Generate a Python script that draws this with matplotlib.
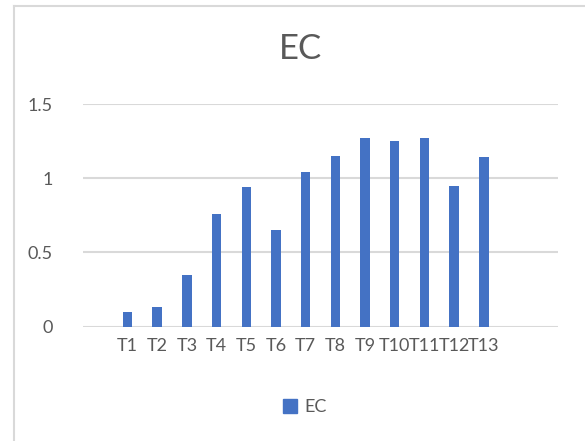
import matplotlib
matplotlib.use("Agg")
import matplotlib.pyplot as plt
from matplotlib.lines import Line2D
from matplotlib.patches import Patch

categories = ["T1", "T2", "T3", "T4", "T5", "T6", "T7", "T8", "T9", "T10", "T11", "T12", "T13"]
values = [0.10, 0.13, 0.35, 0.76, 0.94, 0.65, 1.04, 1.15, 1.27, 1.25, 1.27, 0.95, 1.14]
yticks = [0, 0.5, 1, 1.5]
ytick_labels = ["0", "0.5", "1", "1.5"]

plt.rcParams['font.family'] = ['Lato', 'DejaVu Sans']
W, H = 585, 441
fig = plt.figure(figsize=(W / 100, H / 100), dpi=100)
ax = fig.add_axes([83 / W, 1 - 326.7 / H, (558 - 83) / W, (326.7 - 104) / H])

x = list(range(len(categories)))
ax.bar(x, values, width=0.32, color="#4472C4", zorder=3)
ax.set_xlim(-1.5, 14.5)
ax.set_ylim(0, 1.5)
ax.set_yticks(yticks)
ax.set_yticklabels(ytick_labels)
ax.set_xticks(x)
ax.set_xticklabels(categories)
for s in ax.spines.values():
    s.set_visible(False)
ax.grid(axis="y", color="#D9D9D9", linewidth=1.5, zorder=0)
ax.tick_params(axis="both", length=0, labelsize=13, colors="#595959")
ax.tick_params(axis="y", pad=22)
ax.tick_params(axis="x", pad=8)

fig.text(300.8 / W, 1 - 49 / H, "EC", ha="center", va="center", fontsize=25, color="#595959")

leg = fig.legend(handles=[Patch(color="#4472C4", label="EC")], loc="center",
                 bbox_to_anchor=(305 / W, 1 - 407 / H), frameon=False,
                 fontsize=13, handlelength=0.8, handleheight=0.8, handletextpad=0.4)
for t in leg.get_texts():
    t.set_color("#595959")

fig.add_artist(Line2D([13.5 / W, 13.5 / W], [0, 1 - 6 / H], transform=fig.transFigure, color="#D9D9D9", linewidth=1.5))
fig.add_artist(Line2D([13.5 / W, 1], [1 - 6 / H, 1 - 6 / H], transform=fig.transFigure, color="#D9D9D9", linewidth=1.5))

fig.savefig("out.png", dpi=100)
